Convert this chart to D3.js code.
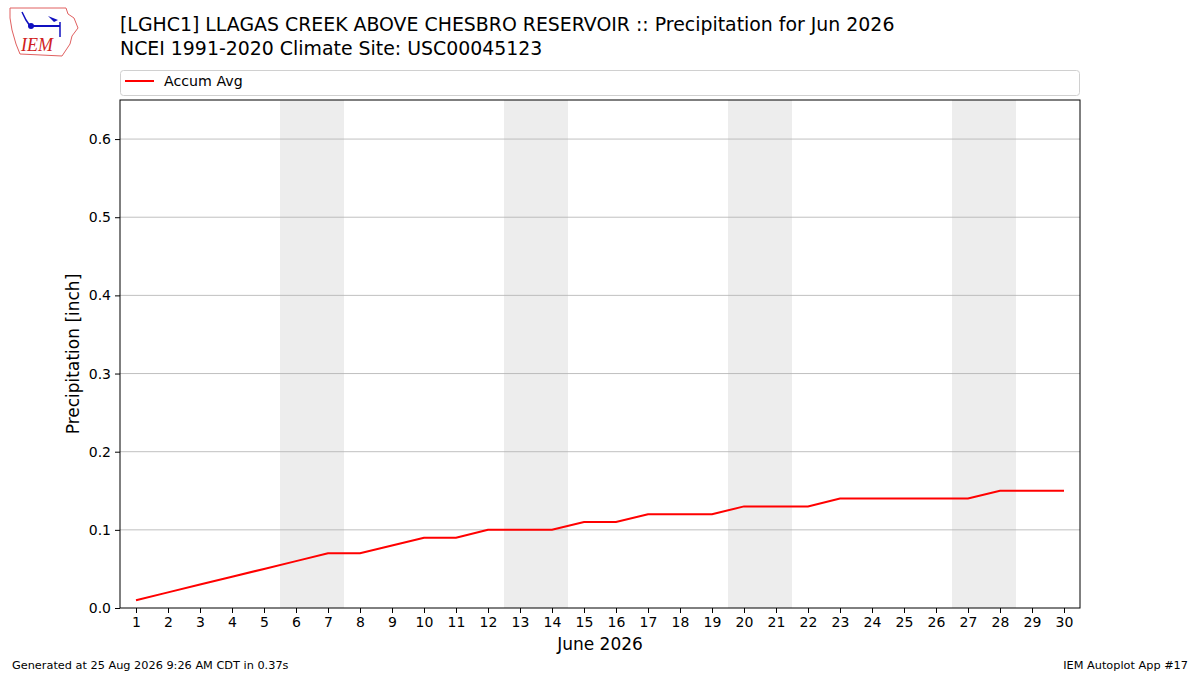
<!DOCTYPE html>
<html>
<head>
<meta charset="utf-8">
<script src="https://cdn.jsdelivr.net/npm/d3@7"></script>
<style>
  body { margin: 0; background: #fff; }
  svg text { font-family: "DejaVu Sans", sans-serif; }
</style>
</head>
<body>
<svg id="chart" width="1200" height="675"></svg>
<script>
// data
const days = d3.range(1, 31);
const accumAvg = [0.01, 0.02, 0.03, 0.04, 0.05, 0.06, 0.07, 0.07, 0.08, 0.09,
                  0.09, 0.10, 0.10, 0.10, 0.11, 0.11, 0.12, 0.12, 0.12, 0.13,
                  0.13, 0.13, 0.14, 0.14, 0.14, 0.14, 0.14, 0.15, 0.15, 0.15];
const weekendStarts = [6, 13, 20, 27];
const yTicks = [0, 0.1, 0.2, 0.3, 0.4, 0.5, 0.6];

const svg = d3.select("#chart");
const margin = {left: 120, right: 1080, top: 100, bottom: 608};

const x = d3.scaleLinear().domain([0.5, 30.5]).range([margin.left, margin.right]);
const y = d3.scaleLinear().domain([0, 0.65]).range([margin.bottom, margin.top]);

// titles
svg.append("text").attr("x", 120).attr("y", 31).attr("font-size", 18.9)
  .text("[LGHC1] LLAGAS CREEK ABOVE CHESBRO RESERVOIR :: Precipitation for Jun 2026");
svg.append("text").attr("x", 120).attr("y", 55).attr("font-size", 18.9)
  .text("NCEI 1991-2020 Climate Site: USC00045123");

// logo (rough)
const logo = svg.append("g");
logo.append("path")
  .attr("d", "M10,8 L66,8 L68,14 L74,18 L78,28 L72,36 L70,44 L66,50 L62,56 L20,54 L16,44 L12,30 L10,18 Z")
  .attr("fill", "none").attr("stroke", "#e06060").attr("stroke-width", 1);
logo.append("line").attr("x1", 30).attr("y1", 26).attr("x2", 60).attr("y2", 26)
  .attr("stroke", "#1010c0").attr("stroke-width", 2);
logo.append("circle").attr("cx", 31).attr("cy", 26).attr("r", 3).attr("fill", "#1010c0");
logo.append("path").attr("d", "M22,12 L26,20 L30,26").attr("fill", "none")
  .attr("stroke", "#1010c0").attr("stroke-width", 1.5);
logo.append("path").attr("d", "M48,16 L58,20 L54,22 Z").attr("fill", "#1010c0");
logo.append("line").attr("x1", 60).attr("y1", 22).attr("x2", 60).attr("y2", 37)
  .attr("stroke", "#1010c0").attr("stroke-width", 1.5);
logo.append("text").attr("x", 21).attr("y", 51).attr("font-size", 18)
  .attr("font-style", "italic").attr("fill", "#d02020")
  .style("font-family", "'Liberation Serif', serif").text("IEM");

// weekend shading
svg.append("g").selectAll("rect").data(weekendStarts).join("rect")
  .attr("x", d => x(d - 0.5))
  .attr("y", y(0.65))
  .attr("width", d => x(d + 1.5) - x(d - 0.5))
  .attr("height", y(0) - y(0.65))
  .attr("fill", "#ededed");

// grid
svg.append("g").selectAll("line").data(yTicks.slice(1)).join("line")
  .attr("x1", margin.left).attr("x2", margin.right)
  .attr("y1", d => y(d)).attr("y2", d => y(d))
  .attr("stroke", "#b0b0b0").attr("stroke-width", 0.8);

// line
const line = d3.line().x((d, i) => x(days[i])).y(d => y(d));
svg.append("path").datum(accumAvg)
  .attr("d", line).attr("fill", "none")
  .attr("stroke", "#ff0000").attr("stroke-width", 2);

// frame
svg.append("rect").attr("x", margin.left).attr("y", margin.top)
  .attr("width", margin.right - margin.left).attr("height", margin.bottom - margin.top)
  .attr("fill", "none").attr("stroke", "#000").attr("stroke-width", 1);

// axes
const xAxis = svg.append("g").attr("transform", `translate(0,${margin.bottom})`)
  .call(d3.axisBottom(x).tickValues(days).tickSize(5).tickPadding(4).tickFormat(d3.format("d")));
const yAxis = svg.append("g").attr("transform", `translate(${margin.left},0)`)
  .call(d3.axisLeft(y).tickValues(yTicks).tickSize(5).tickPadding(4).tickFormat(d3.format(".1f")));
[xAxis, yAxis].forEach(a => {
  a.select(".domain").remove();
  a.selectAll("text").attr("font-size", 14).attr("fill", "#000")
    .style("font-family", "'DejaVu Sans', sans-serif");
  a.selectAll("line").attr("stroke", "#000");
});

svg.append("text").attr("x", 600).attr("y", 650).attr("text-anchor", "middle")
  .attr("font-size", 17).text("June 2026");
svg.append("text").attr("transform", "translate(79,354) rotate(-90)")
  .attr("text-anchor", "middle").attr("font-size", 17).text("Precipitation [inch]");

// legend
svg.append("rect").attr("x", 120.5).attr("y", 70.5).attr("width", 959).attr("height", 25)
  .attr("rx", 3).attr("fill", "#fff").attr("stroke", "#d0d0d0");
svg.append("line").attr("x1", 125).attr("x2", 154).attr("y1", 81).attr("y2", 81)
  .attr("stroke", "#ff0000").attr("stroke-width", 2);
svg.append("text").attr("x", 164).attr("y", 86).attr("font-size", 14.2).text("Accum Avg");

// footer
svg.append("text").attr("x", 12).attr("y", 669).attr("font-size", 11.3)
  .text("Generated at 25 Aug 2026 9:26 AM CDT in 0.37s");
svg.append("text").attr("x", 1188).attr("y", 669).attr("font-size", 11.3)
  .attr("text-anchor", "end").text("IEM Autoplot App #17");
</script>
</body>
</html>
